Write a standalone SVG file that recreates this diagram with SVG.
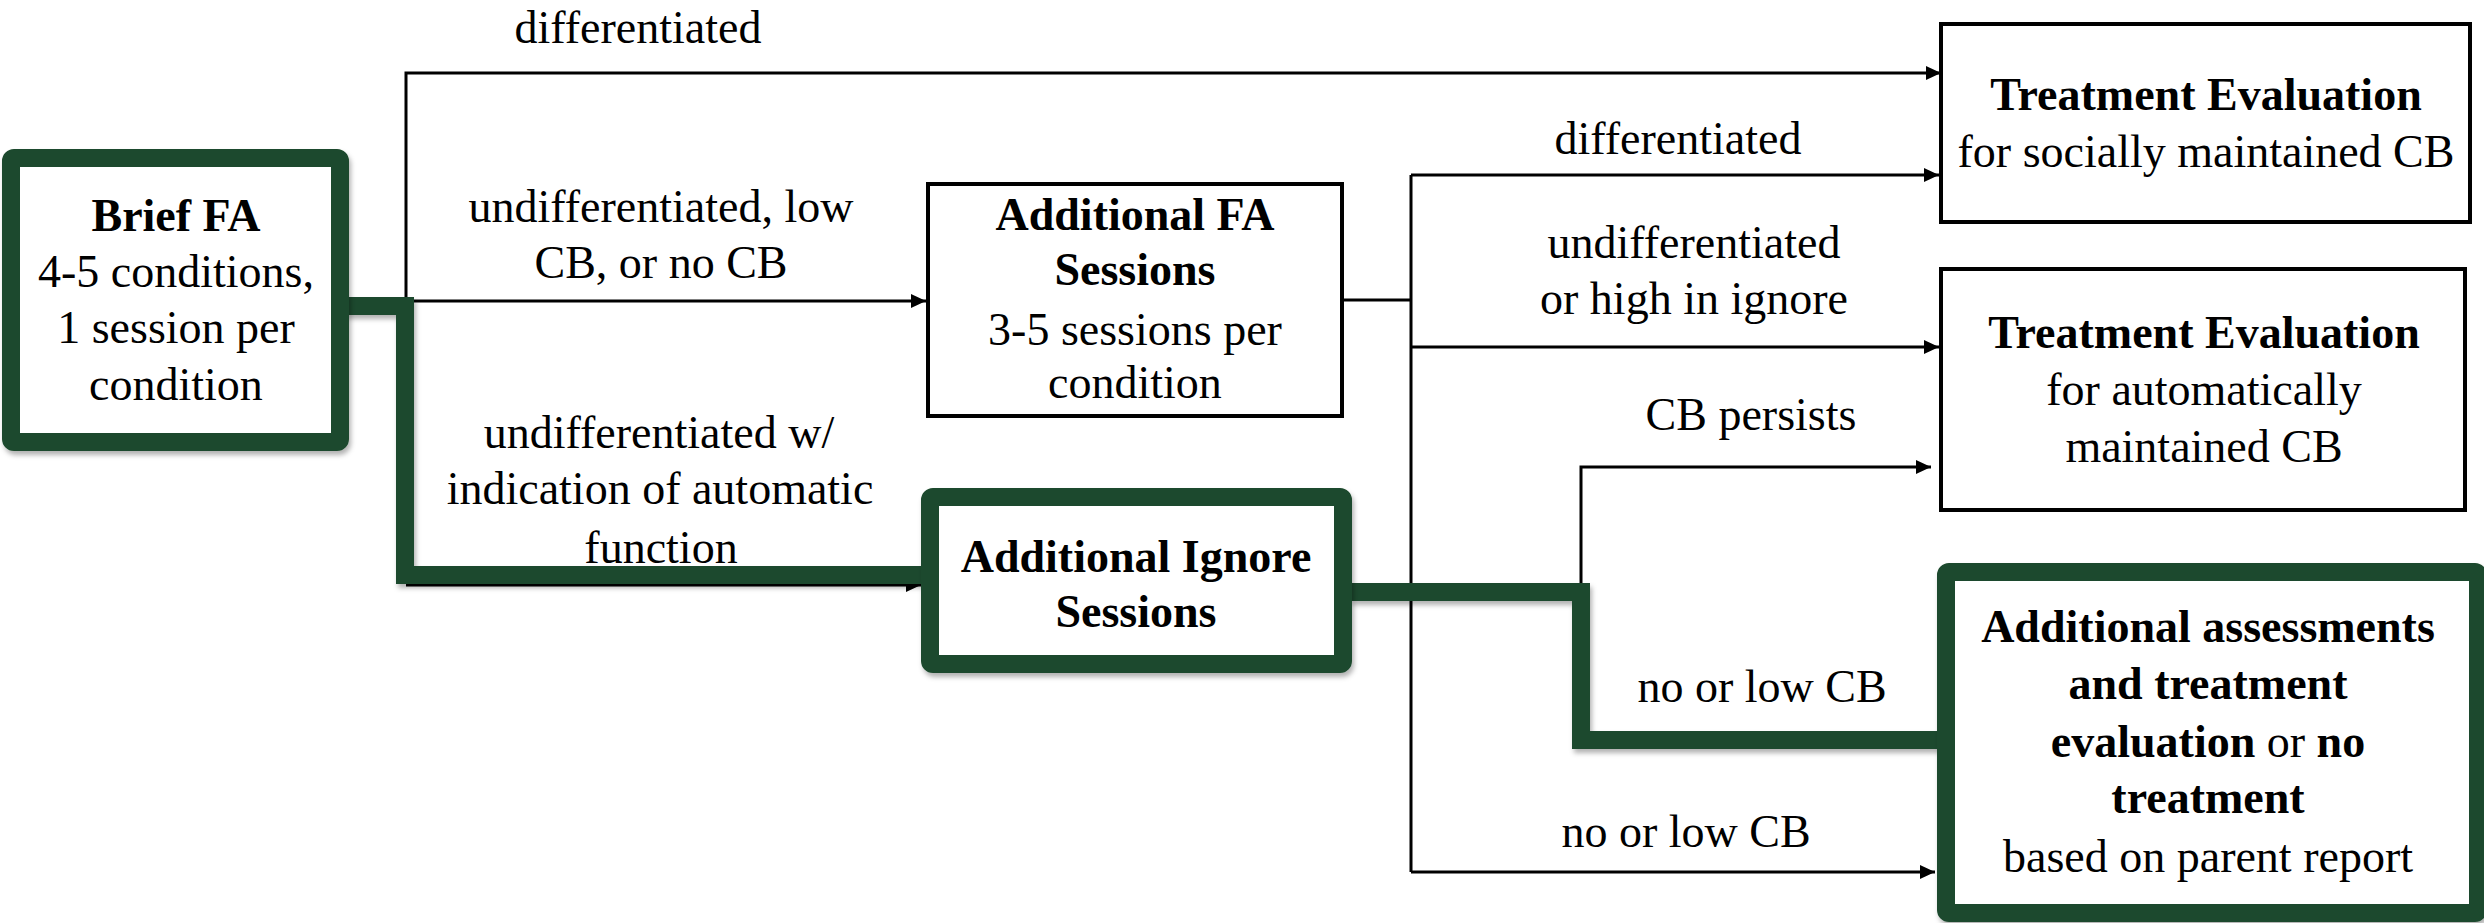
<svg xmlns="http://www.w3.org/2000/svg" width="2484" height="923" viewBox="0 0 2484 923">
  <style>
    text { font-family: "Liberation Serif", "Times New Roman", serif; font-size: 46px; fill: #000; text-anchor: middle; }
    .b { font-weight: bold; }
    .r { font-weight: normal; }
    .box { fill: #fff; stroke: #000; stroke-width: 4; }
    .gbox { fill: #fff; stroke: #1f4a2d; stroke-width: 18; }
    .wire { fill: none; stroke: #000; stroke-width: 3; }
    .gwire { fill: none; stroke: #1f4a2d; stroke-width: 18; stroke-linejoin: miter; }
  </style>
  <defs>
    <marker id="arrow" markerUnits="userSpaceOnUse" markerWidth="15" markerHeight="14" refX="15" refY="7" orient="auto">
      <path d="M0,0 L15,7 L0,14 z" fill="#000"/>
    </marker>
    <filter id="shadow" x="-10%" y="-10%" width="120%" height="130%">
      <feDropShadow dx="2" dy="4" stdDeviation="2.5" flood-color="#000" flood-opacity="0.3"/>
    </filter>
  </defs>

  <rect width="2484" height="923" fill="#fff"/>

  <!-- connectors -->
  <g id="connectors">
    <path class="wire" d="M406,301 V73 H1941" marker-end="url(#arrow)"/>
    <path class="wire" d="M406,301 H926" marker-end="url(#arrow)"/>
    <path class="wire" d="M406,585 H921" marker-end="url(#arrow)"/>
    <path class="wire" d="M1342,300 H1411"/>
    <path class="wire" d="M1411,175 V872"/>
    <path class="wire" d="M1411,175 H1939" marker-end="url(#arrow)"/>
    <path class="wire" d="M1411,347 H1939" marker-end="url(#arrow)"/>
    <path class="wire" d="M1411,872 H1935" marker-end="url(#arrow)"/>
    <path class="wire" d="M1581,585 V467 H1931" marker-end="url(#arrow)"/>
    <g filter="url(#shadow)">
      <path class="gwire" d="M345,306 H405 V575 H921"/>
      <path class="gwire" d="M1350,592 H1581 V740 H1940"/>
    </g>
    <text x="638" y="43">differentiated</text>
    <text x="661" y="222">undifferentiated, low</text>
    <text x="661" y="278">CB, or no CB</text>
    <text x="659" y="448">undifferentiated w/</text>
    <text x="660" y="504">indication of automatic</text>
    <text x="661" y="563">function</text>
    <text x="1678" y="154">differentiated</text>
    <text x="1694" y="258">undifferentiated</text>
    <text x="1694" y="314">or high in ignore</text>
    <text x="1751" y="430">CB persists</text>
    <text x="1762" y="702">no or low CB</text>
    <text x="1686" y="847">no or low CB</text>
  </g>

  <!-- Brief FA -->
  <g id="brief-fa">
    <rect class="gbox" x="11" y="158" width="329" height="284" rx="3" filter="url(#shadow)"/>
    <text class="b" x="176" y="231">Brief  FA</text>
    <text x="176" y="287">4-5 conditions,</text>
    <text x="176" y="343">1 session per</text>
    <text x="176" y="400">condition</text>
  </g>

  <!-- Additional FA Sessions -->
  <g id="additional-fa">
    <rect class="box" x="928" y="184" width="414" height="232"/>
    <text class="b" x="1135" y="230">Additional FA</text>
    <text class="b" x="1135" y="285">Sessions</text>
    <text x="1135" y="345">3-5 sessions per</text>
    <text x="1135" y="398">condition</text>
  </g>

  <!-- Additional Ignore Sessions -->
  <g id="additional-ignore">
    <rect class="gbox" x="930" y="497" width="413" height="167" rx="3" filter="url(#shadow)"/>
    <text class="b" x="1136" y="572">Additional Ignore</text>
    <text class="b" x="1136" y="627">Sessions</text>
  </g>

  <!-- Treatment Evaluation: social -->
  <g id="treatment-social">
    <rect class="box" x="1941" y="24" width="529" height="198"/>
    <text class="b" x="2206" y="110">Treatment Evaluation</text>
    <text x="2206" y="167">for socially maintained CB</text>
  </g>

  <!-- Treatment Evaluation: automatic -->
  <g id="treatment-automatic">
    <rect class="box" x="1941" y="269" width="524" height="241"/>
    <text class="b" x="2204" y="348">Treatment Evaluation</text>
    <text x="2204" y="405">for automatically</text>
    <text x="2204" y="462">maintained CB</text>
  </g>

  <!-- Additional assessments / no treatment -->
  <g id="additional-assessments">
    <rect class="gbox" x="1946" y="572" width="532" height="341" rx="3" filter="url(#shadow)"/>
    <text class="b" x="2208" y="642">Additional assessments</text>
    <text class="b" x="2208" y="699">and treatment</text>
    <text x="2208" y="757"><tspan class="b">evaluation</tspan> <tspan class="r">or</tspan> <tspan class="b">no</tspan></text>
    <text class="b" x="2208" y="813">treatment</text>
    <text x="2208" y="872">based on parent report</text>
  </g>
</svg>
